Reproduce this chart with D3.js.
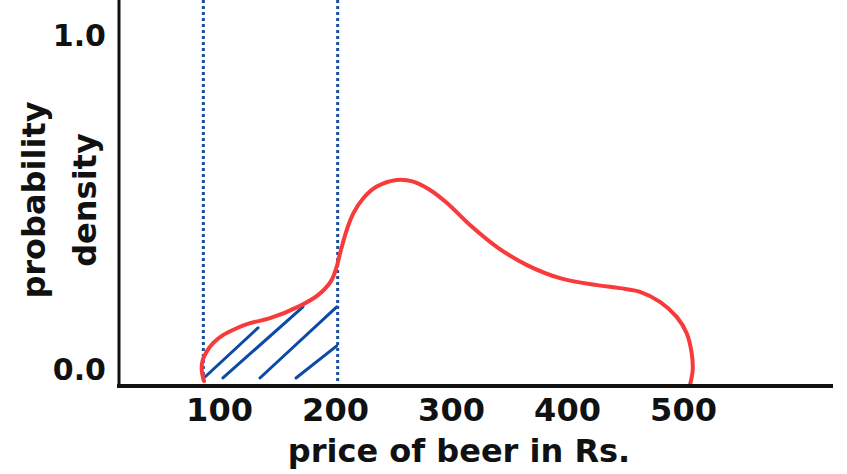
<!DOCTYPE html>
<html>
<head>
<meta charset="utf-8">
<script src="https://cdn.jsdelivr.net/npm/d3@7"></script>
<style>
  html, body { margin: 0; padding: 0; background: #fff; }
  svg { display: block; }
  text { font-family: "DejaVu Sans", sans-serif; font-weight: bold; fill: #111; }
</style>
</head>
<body>
<svg id="chart" width="847" height="474"></svg>
<script>
// ---- data ----
const xTicks = [100, 200, 300, 400, 500];
const yTicks = [0, 1];
const yTickLabels = ["0.0", "1.0"];

// density curve (price, density)
const curvePrice   = [87.07, 85.09, 85.95, 89.40, 95.09, 103.71, 115.26, 126.72, 143.97, 169.83, 185.34, 196.55, 201.47, 204.31, 210.09, 215.78, 224.40, 235.95, 253.19, 267.50, 281.90, 296.55, 316.38, 339.66, 365.52, 393.97, 425.86, 445.69, 462.93, 480.17, 494.57, 503.19, 507.50, 508.36, 506.03];
const curveDensity = [0.015, 0.048, 0.078, 0.103, 0.129, 0.153, 0.173, 0.188, 0.203, 0.240, 0.272, 0.314, 0.357, 0.397, 0.467, 0.517, 0.562, 0.597, 0.617, 0.612, 0.587, 0.548, 0.482, 0.416, 0.362, 0.323, 0.302, 0.293, 0.282, 0.252, 0.207, 0.158, 0.098, 0.048, 0.003];

// interval bounds (dotted lines)
const boundPrices = [86.5, 202.3];

// hatch strokes inside the shaded interval
const hatchX1 = [87.9, 103.4, 135.3, 166.4];
const hatchY1 = [0.027, 0.024, 0.024, 0.024];
const hatchX2 = [133.6, 172.4, 201.5, 201.5];
const hatchY2 = [0.174, 0.237, 0.237, 0.120];

// ---- layout ----
const svg = d3.select("#chart");
const axisX0 = 119, axisY0 = 386, plotRight = 833;

const x = d3.scaleLinear().domain([100, 500]).range([219, 683]);
const y = d3.scaleLinear().domain([0, 1]).range([axisY0, 52]);

// dotted interval lines
svg.append("g").selectAll("line").data(boundPrices).join("line")
  .attr("x1", d => x(d)).attr("x2", d => x(d))
  .attr("y1", 0).attr("y2", axisY0)
  .attr("stroke", "#1b4f9e").attr("stroke-width", 3)
  .attr("stroke-dasharray", "3,3");

// hatch
svg.append("g").selectAll("line").data(hatchX1.map((_, i) => i)).join("line")
  .attr("x1", i => x(hatchX1[i])).attr("y1", i => y(hatchY1[i]))
  .attr("x2", i => x(hatchX2[i])).attr("y2", i => y(hatchY2[i]))
  .attr("stroke", "#0b4aa6").attr("stroke-width", 3)
  .attr("stroke-linecap", "round");

// density curve
const pts = curvePrice.map((p, i) => [p, curveDensity[i]]);
svg.append("path")
  .datum(pts)
  .attr("fill", "none")
  .attr("stroke", "#f83a3a")
  .attr("stroke-width", 4)
  .attr("stroke-linecap", "round")
  .attr("d", d3.line().x(d => x(d[0])).y(d => y(d[1])).curve(d3.curveCatmullRom.alpha(0.5)));

// axes lines
svg.append("line").attr("x1", axisX0).attr("x2", axisX0).attr("y1", 0).attr("y2", axisY0 + 2)
  .attr("stroke", "#111").attr("stroke-width", 3);
svg.append("line").attr("x1", axisX0 - 2).attr("x2", plotRight).attr("y1", axisY0).attr("y2", axisY0)
  .attr("stroke", "#111").attr("stroke-width", 4);

// x axis tick labels
const gx = svg.append("g").attr("transform", `translate(0,${axisY0})`)
  .call(d3.axisBottom(x).tickValues(xTicks).tickSize(0).tickPadding(12).tickFormat(d3.format("d")));
gx.select(".domain").remove();
gx.selectAll("text").attr("font-size", 32).attr("font-family", null).style("fill", "#111");

// y axis tick labels
const gy = svg.append("g").attr("transform", `translate(${axisX0},-16)`)
  .call(d3.axisLeft(y).tickValues(yTicks).tickSize(0).tickPadding(13).tickFormat((d, i) => yTickLabels[i]));
gy.select(".domain").remove();
gy.selectAll("text").attr("font-size", 30).attr("font-family", null).style("fill", "#111");

// axis titles
svg.append("text").attr("x", 459).attr("y", 462).attr("text-anchor", "middle")
  .attr("font-size", 32).text("price of beer in Rs.");
const yt = svg.append("text").attr("transform", "translate(0,200) rotate(-90)")
  .attr("text-anchor", "middle").attr("font-size", 32);
yt.append("tspan").attr("x", 0).attr("y", 45).text("probability");
yt.append("tspan").attr("x", 0).attr("y", 96).text("density");
</script>
</body>
</html>
